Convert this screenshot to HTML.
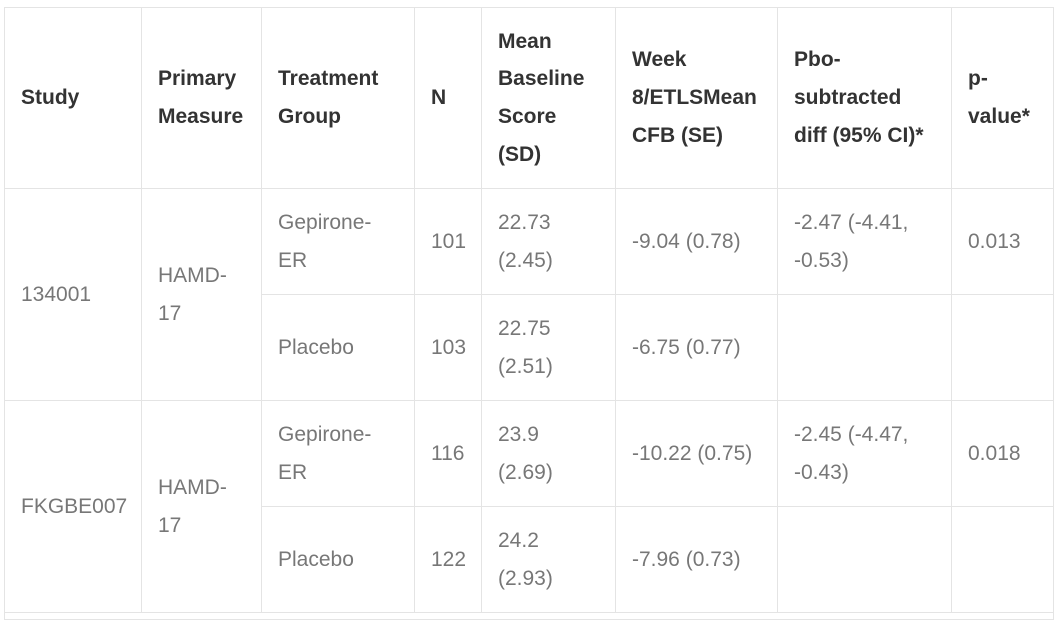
<!DOCTYPE html>
<html><head><meta charset="utf-8"><style>
html,body{margin:0;padding:0;background:#fff;width:1063px;height:619px;overflow:hidden}
table{position:absolute;left:4px;top:7px;border-collapse:collapse;table-layout:fixed;font-family:"Liberation Sans",sans-serif;font-size:21px;line-height:37.7px}
td,th{border:1.5px solid #e4e4e4;padding:0 0 0 16px;vertical-align:middle;text-align:left;white-space:nowrap}
th{color:#333;font-weight:bold;height:180px}
td{color:#777;height:105px}
</style></head><body>
<table>
<colgroup><col style="width:137px"><col style="width:120px"><col style="width:153px"><col style="width:67px"><col style="width:134px"><col style="width:162px"><col style="width:174px"><col style="width:102px"></colgroup>
<tr>
<th>Study</th>
<th>Primary<br>Measure</th>
<th>Treatment<br>Group</th>
<th>N</th>
<th>Mean<br>Baseline<br>Score<br>(SD)</th>
<th>Week<br>8/ETLSMean<br>CFB (SE)</th>
<th>Pbo-<br>subtracted<br>diff (95% CI)*</th>
<th>p-<br>value*</th>
</tr>
<tr>
<td rowspan="2">134001</td>
<td rowspan="2">HAMD-<br>17</td>
<td>Gepirone-<br>ER</td>
<td>101</td>
<td>22.73<br>(2.45)</td>
<td>-9.04 (0.78)</td>
<td>-2.47 (-4.41,<br>-0.53)</td>
<td>0.013</td>
</tr>
<tr>
<td>Placebo</td>
<td>103</td>
<td>22.75<br>(2.51)</td>
<td>-6.75 (0.77)</td>
<td></td>
<td></td>
</tr>
<tr>
<td rowspan="2">FKGBE007</td>
<td rowspan="2">HAMD-<br>17</td>
<td>Gepirone-<br>ER</td>
<td>116</td>
<td>23.9<br>(2.69)</td>
<td>-10.22 (0.75)</td>
<td>-2.45 (-4.47,<br>-0.43)</td>
<td>0.018</td>
</tr>
<tr>
<td>Placebo</td>
<td>122</td>
<td>24.2<br>(2.93)</td>
<td>-7.96 (0.73)</td>
<td></td>
<td></td>
</tr>
<tr>
<td colspan="8" style="height:6px;line-height:6px"></td>
</tr>
</table>
</body></html>
